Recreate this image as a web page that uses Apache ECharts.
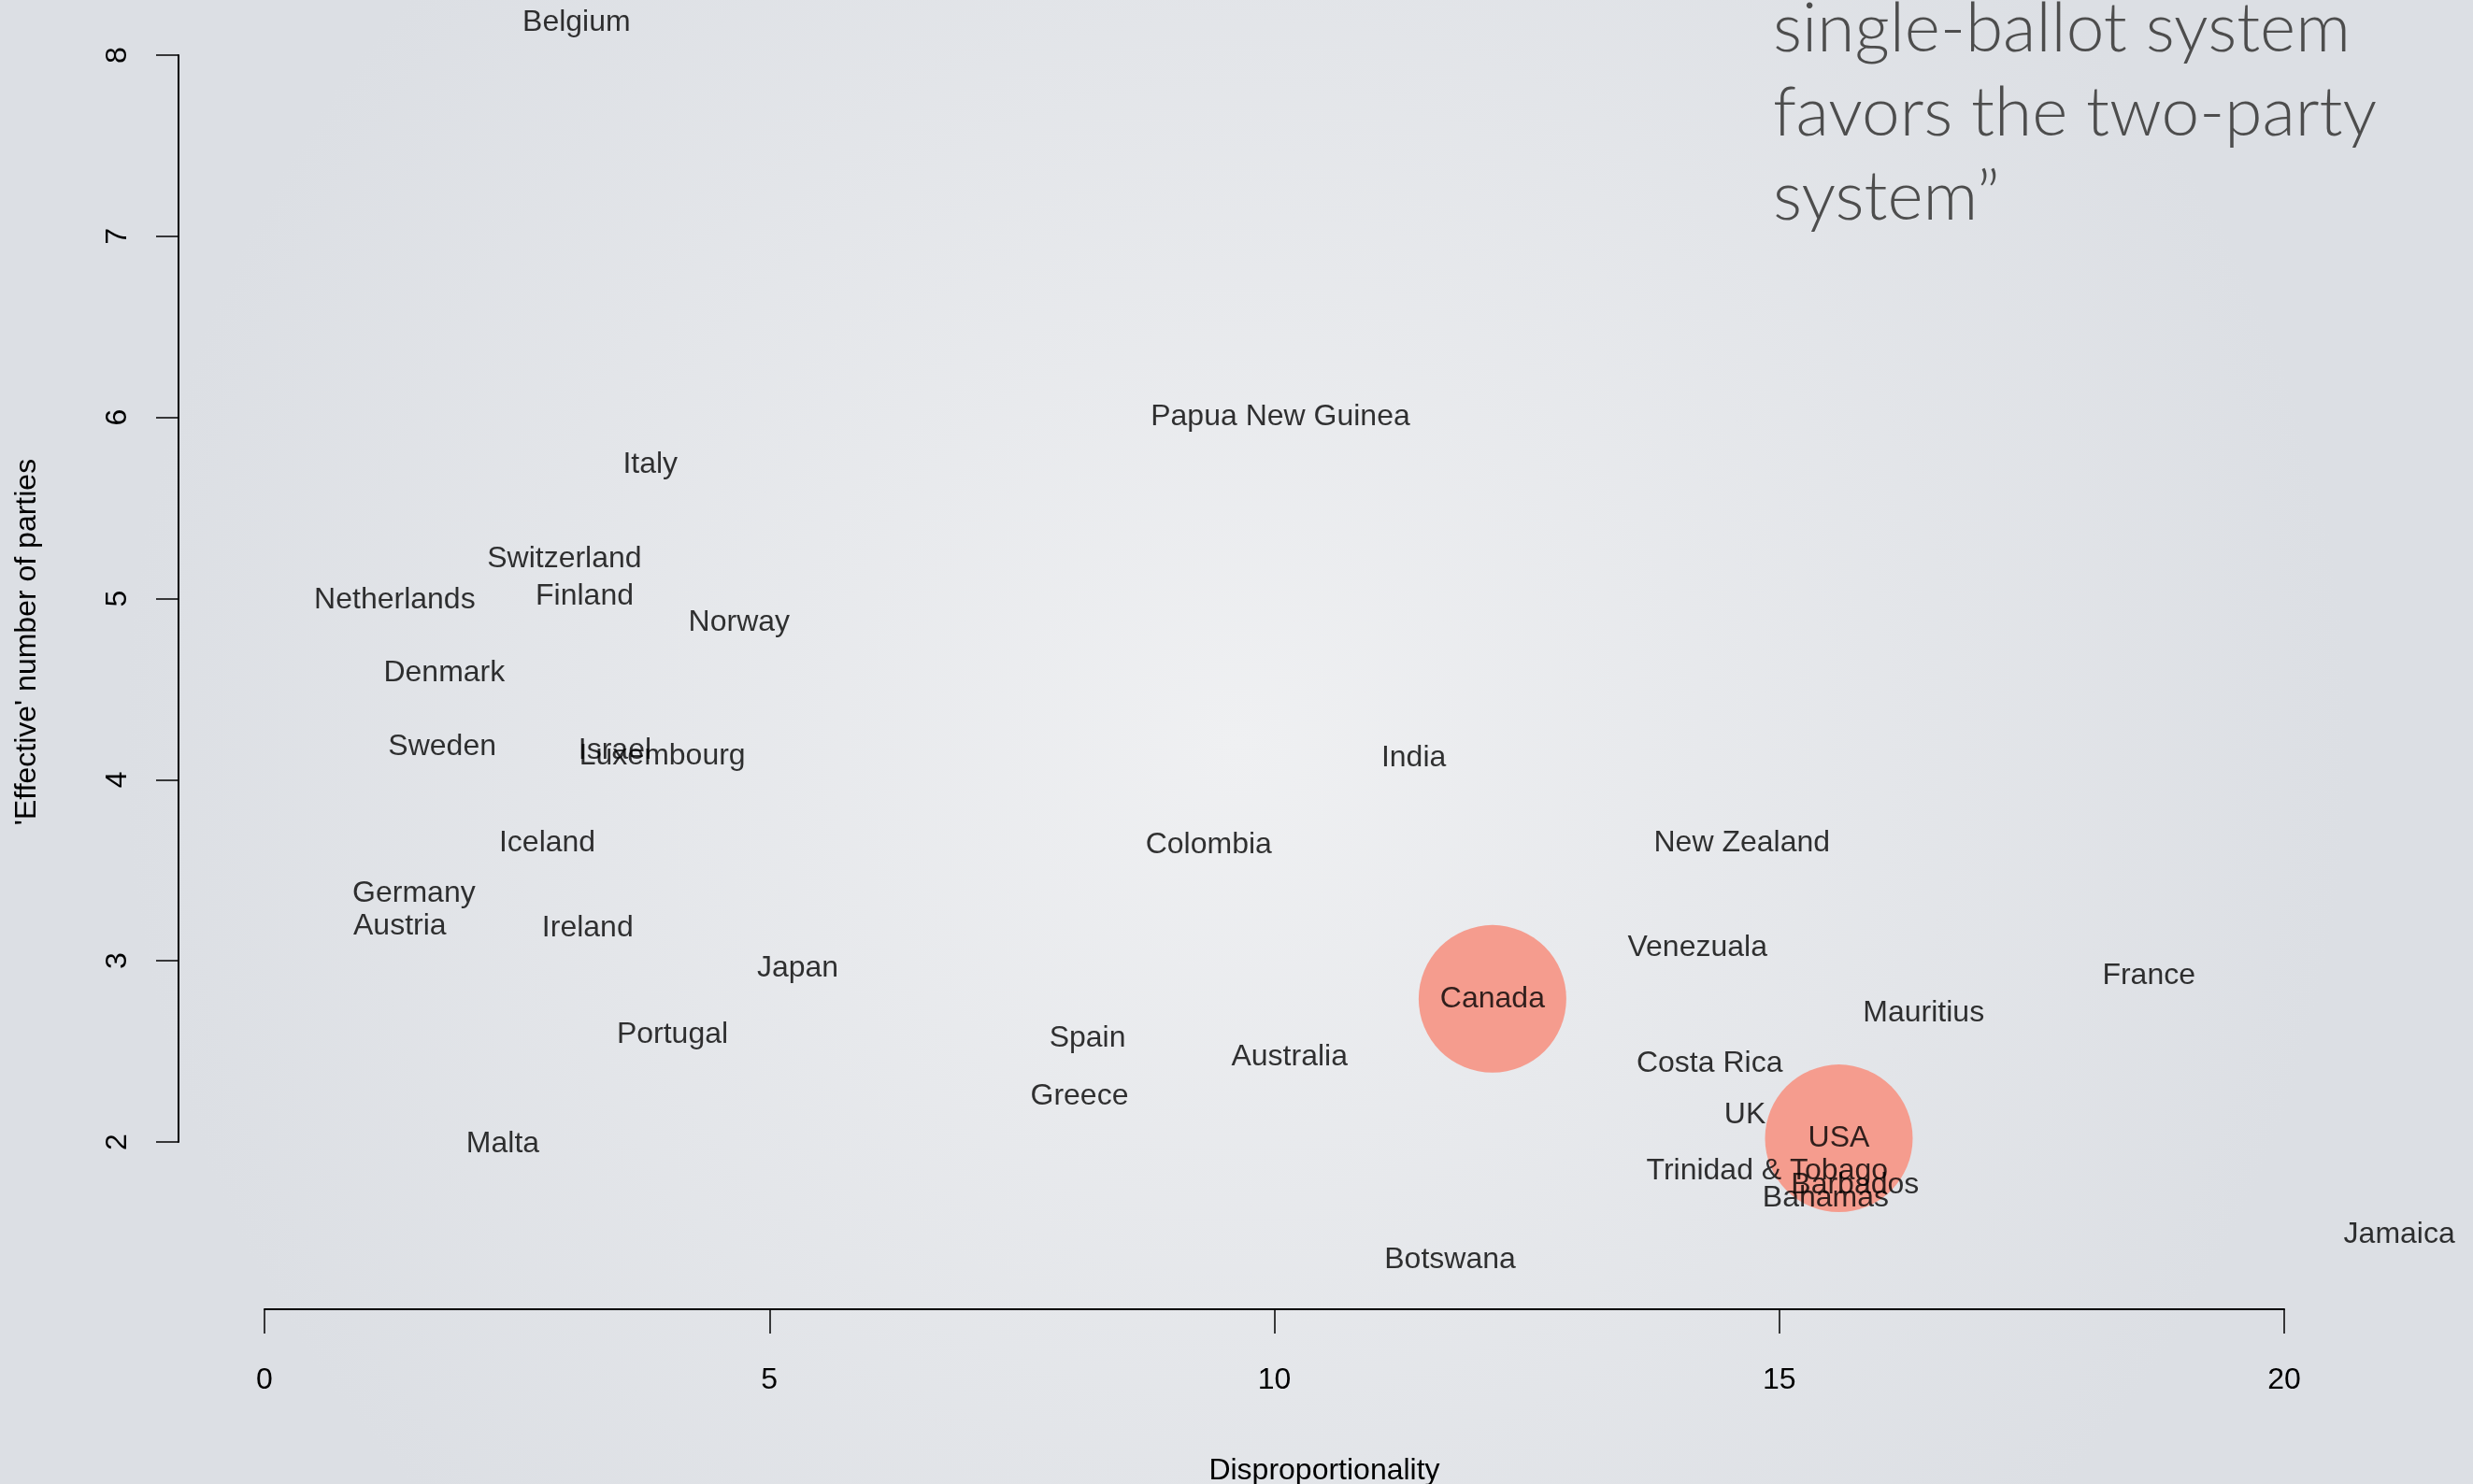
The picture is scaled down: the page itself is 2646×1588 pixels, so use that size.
<!DOCTYPE html>
<html>
<head>
<meta charset="utf-8">
<title>Disproportionality vs effective number of parties</title>
<script src="https://cdn.jsdelivr.net/npm/echarts@6/dist/echarts.min.js"></script>
<style>
  html, body { margin: 0; padding: 0; }
  #chart { width: 2646px; height: 1588px; }
</style>
</head>
<body>
<div id="chart"></div>
<script>
// countries with their disproportionality (x) and effective number of parties (y)
const countries = [
  "Belgium", "Papua New Guinea", "Italy", "Switzerland", "Netherlands", "Finland",
  "Norway", "Denmark", "Sweden", "Israel", "Luxembourg", "India", "Iceland",
  "Colombia", "New Zealand", "Germany", "Austria", "Ireland", "Japan", "Venezuala",
  "France", "Canada", "Mauritius", "Portugal", "Spain", "Australia", "Costa Rica",
  "Greece", "UK", "USA", "Malta", "Trinidad & Tobago", "Barbados", "Bahamas",
  "Botswana", "Jamaica"
];
const disproportionality = [
  3.09, 10.06, 3.82, 2.97, 1.29, 3.17,
  4.70, 1.78, 1.76, 3.47, 3.94, 11.38, 2.80,
  9.35, 14.63, 1.48, 1.34, 3.20, 5.28, 14.19,
  18.66, 12.16, 16.43, 4.04, 8.15, 10.15, 14.31,
  8.07, 14.66, 15.59, 2.36, 14.88, 15.75, 15.46,
  11.74, 21.14
];
const effectiveParties = [
  8.18, 6.00, 5.74, 5.22, 4.99, 5.01,
  4.87, 4.59, 4.18, 4.16, 4.13, 4.12, 3.65,
  3.64, 3.65, 3.37, 3.19, 3.18, 2.96, 3.07,
  2.92, 2.79, 2.71, 2.59, 2.57, 2.47, 2.43,
  2.25, 2.15, 2.02, 1.99, 1.84, 1.76, 1.69,
  1.35, 1.49
];
const highlighted = ["Canada", "USA"];
const xTicks = [0, 5, 10, 15, 20];
const yTicks = [2, 3, 4, 5, 6, 7, 8];

const labelFont = '"Liberation Sans", Arial, Helvetica, sans-serif';

const chart = echarts.init(document.getElementById("chart"));

const points = countries.map((name, i) => ({
  name: name,
  value: [disproportionality[i], effectiveParties[i]]
}));

const option = {
  animation: false,
  backgroundColor: {
    type: "radial",
    x: 0.5, y: 0.5, r: 0.75,
    colorStops: [
      { offset: 0, color: "#eff0f2" },
      { offset: 1, color: "#dcdfe4" }
    ]
  },
  grid: { left: 283, top: 59, width: 2161, height: 1163 },
  xAxis: {
    type: "value",
    min: xTicks[0],
    max: xTicks[xTicks.length - 1],
    interval: 5,
    position: "bottom",
    offset: 179,
    splitLine: { show: false },
    axisLine: { show: true, onZero: false, lineStyle: { color: "#000", width: 2 } },
    axisTick: { show: true, length: 26, lineStyle: { color: "#000", width: 1.5 } },
    axisLabel: { color: "#000", fontSize: 32, fontFamily: labelFont, margin: 60 }
  },
  yAxis: {
    type: "value",
    min: yTicks[0],
    max: yTicks[yTicks.length - 1],
    interval: 1,
    position: "left",
    offset: 92,
    splitLine: { show: false },
    axisLine: { show: true, onZero: false, lineStyle: { color: "#000", width: 2 } },
    axisTick: { show: true, length: 24, lineStyle: { color: "#000", width: 1.5 } },
    axisLabel: { color: "#000", fontSize: 32, fontFamily: labelFont, rotate: 90, margin: 49 }
  },
  graphic: [
    {
      type: "text", left: 1897, top: -14,
      style: {
        text: "single-ballot system\nfavors the two-party\nsystem\u201d",
        font: '300 73px Lato, "Open Sans", sans-serif',
        lineHeight: 90,
        fill: "#4d4d4d"
      }
    },
    {
      type: "text", x: 1417, y: 1574,
      style: {
        text: "Disproportionality", fontSize: 32, fontFamily: labelFont,
        fill: "#000", align: "center", verticalAlign: "middle"
      }
    },
    {
      type: "text", x: 29, y: 687, rotation: Math.PI / 2,
      style: {
        text: "'Effective' number of parties", fontSize: 32, fontFamily: labelFont,
        fill: "#000", align: "center", verticalAlign: "middle"
      }
    }
  ],
  series: [
    {
      name: "highlight",
      type: "scatter",
      clip: false,
      z: 2,
      symbolSize: 158,
      itemStyle: { color: "#f59c8e", opacity: 1 },
      data: points.filter(p => highlighted.includes(p.name))
    },
    {
      name: "countries",
      type: "scatter",
      clip: false,
      z: 3,
      symbolSize: 1,
      itemStyle: { color: "rgba(0,0,0,0)" },
      label: {
        show: true,
        position: "inside",
        offset: [0, 3],
        formatter: "{b}",
        color: "#000",
        fontSize: 32,
        fontFamily: labelFont
      },
      labelLayout: { hideOverlap: false },
      data: points
    }
  ]
};

chart.setOption(option);
window.addEventListener("resize", () => chart.resize());
</script>
</body>
</html>
